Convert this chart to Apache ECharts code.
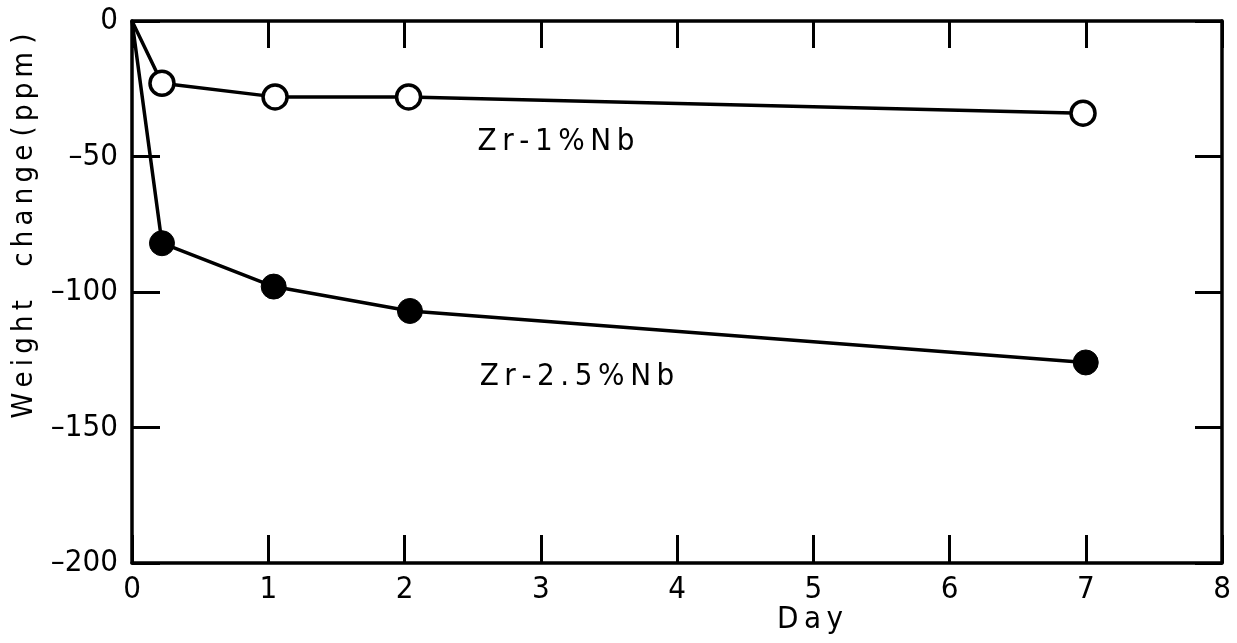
<!DOCTYPE html>
<html>
<head>
<meta charset="utf-8">
<script src="https://cdn.jsdelivr.net/npm/echarts@6/dist/echarts.min.js"></script>
<style>
  html, body { margin: 0; padding: 0; background: #fff; }
  #chart { width: 1237px; height: 643px; }
</style>
</head>
<body>
<div id="chart"></div>
<script>
// --- 数据 ---
const days1 = [0, 0.22, 1.05, 2.03, 6.98];
const zr1Nb = [0, -23, -28, -28, -34];
const days25 = [0, 0.22, 1.04, 2.04, 7.0];
const zr25Nb = [0, -82, -98, -107, -126];
const xTicks = [0, 1, 2, 3, 4, 5, 6, 7, 8];
const yTicks = [0, -50, -100, -150, -200];

const INK = '#000';
const FONT = '"DejaVu Sans Condensed", "DejaVu Sans"';
const TS = '\u2009'; // 细空格，模拟原图字距
const spaced = s => s.split('').join(TS);
const dash = v => String(v).replace('-', '\u2013');

const chart = echarts.init(document.getElementById('chart'));

const lineAxis = { show: true, onZero: false, lineStyle: { color: INK, width: 3.5 } };
const tickIn = len => ({ show: true, inside: true, length: len, lineStyle: { color: INK, width: 3 } });

// 第一个点 (0,0) 不画圆圈
const pts = (xs, ys, size) => xs.map((d, i) => ({ value: [d, ys[i]], symbolSize: i === 0 ? 0 : size }));

chart.setOption({
  animation: false,
  grid: { left: 132, right: 15, top: 21, bottom: 80 },
  xAxis: [
    {
      type: 'value', min: 0, max: 8, interval: 1, position: 'bottom',
      axisLine: lineAxis, axisTick: tickIn(28), splitLine: { show: false },
      axisLabel: { color: INK, fontFamily: FONT, fontSize: 31, margin: 11 },
    },
    {
      type: 'value', min: 0, max: 8, interval: 1, position: 'top',
      axisLine: lineAxis, axisTick: tickIn(27), splitLine: { show: false },
      axisLabel: { show: false },
    },
  ],
  yAxis: [
    {
      type: 'value', min: -200, max: 0, interval: 50, position: 'left',
      axisLine: lineAxis, axisTick: tickIn(28), splitLine: { show: false },
      axisLabel: { color: INK, fontFamily: FONT, fontSize: 31, margin: 14, formatter: dash },
    },
    {
      type: 'value', min: -200, max: 0, interval: 50, position: 'right',
      axisLine: lineAxis, axisTick: tickIn(27), splitLine: { show: false },
      axisLabel: { show: false },
    },
  ],
  series: [
    {
      name: 'Zr-1%Nb', type: 'line',
      data: pts(days1, zr1Nb, 24),
      symbol: 'circle', showAllSymbol: true,
      lineStyle: { color: INK, width: 3.5 },
      itemStyle: { color: '#fff', borderColor: INK, borderWidth: 3.5 },
    },
    {
      name: 'Zr-2.5%Nb', type: 'line',
      data: pts(days25, zr25Nb, 25),
      symbol: 'circle', showAllSymbol: true,
      lineStyle: { color: INK, width: 3.5 },
      itemStyle: { color: INK, borderColor: INK, borderWidth: 1 },
    },
  ],
  graphic: [
    { type: 'text', x: 556, y: 142, style: { text: spaced('Zr-1%Nb'), fill: INK, font: '31px ' + FONT, textAlign: 'center', textVerticalAlign: 'middle' } },
    { type: 'text', x: 577, y: 377, style: { text: spaced('Zr-2.5%Nb'), fill: INK, font: '31px ' + FONT, textAlign: 'center', textVerticalAlign: 'middle' } },
    { type: 'text', x: 810, y: 620, style: { text: spaced('Day'), fill: INK, font: '31px ' + FONT, textAlign: 'center', textVerticalAlign: 'middle' } },
    {
      type: 'text', x: 24, y: 226, rotation: Math.PI / 2,
      style: { text: spaced('Weight') + '    ' + spaced('change') + ' ' + spaced('(ppm') + ' )', fill: INK, font: '29px ' + FONT, textAlign: 'center', textVerticalAlign: 'middle' },
    },
  ],
});
</script>
</body>
</html>
